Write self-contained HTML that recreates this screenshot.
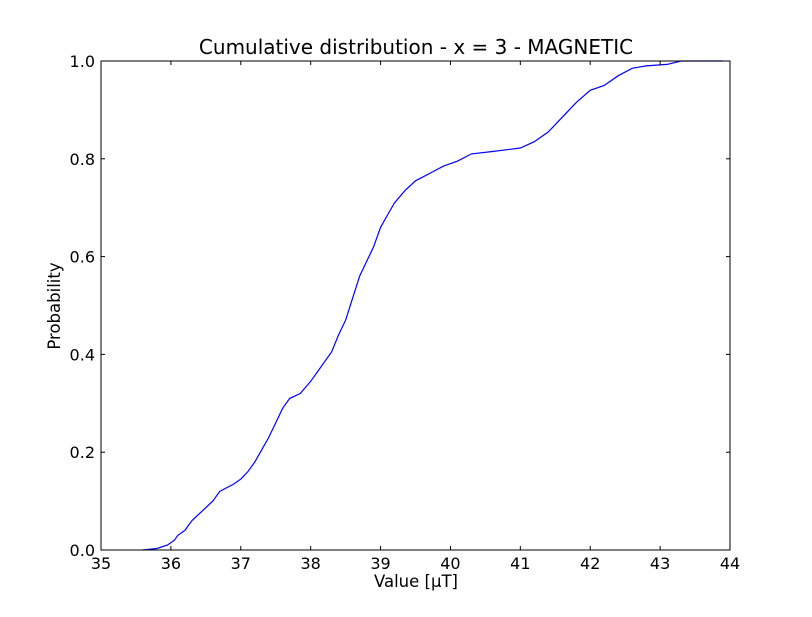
<!DOCTYPE html>
<html><head><meta charset="utf-8"><style>
body{margin:0;background:#fff;}
svg text{font-family:"DejaVu Sans","Liberation Sans",sans-serif;fill:#000;}
</style></head><body>
<svg id="chart" width="812" height="612" viewBox="0 0 812 612">
<rect width="812" height="612" fill="#fff"/>
<g id="plot"></g>
</svg>
<script>
const xVals=[35.6,35.8,35.95,36.05,36.1,36.2,36.3,36.45,36.6,36.7,36.9,37.0,37.1,37.2,37.3,37.4,37.5,37.6,37.7,37.85,38.0,38.1,38.2,38.3,38.4,38.5,38.6,38.7,38.8,38.9,39.0,39.1,39.2,39.35,39.5,39.7,39.9,40.1,40.3,40.6,41.0,41.2,41.4,41.6,41.8,42.0,42.2,42.4,42.6,42.8,43.1,43.3,43.9];
const probVals=[0,0.003,0.01,0.02,0.03,0.04,0.06,0.08,0.1,0.12,0.135,0.145,0.16,0.18,0.205,0.23,0.26,0.29,0.31,0.32,0.345,0.365,0.385,0.405,0.44,0.47,0.515,0.56,0.59,0.62,0.66,0.685,0.71,0.735,0.755,0.77,0.785,0.795,0.81,0.815,0.822,0.835,0.855,0.885,0.915,0.94,0.95,0.97,0.985,0.99,0.993,1.0,1.0];
const xTicks=[35,36,37,38,39,40,41,42,43,44];
const yTicks=[0.0,0.2,0.4,0.6,0.8,1.0];
const L=101,R=730,T=61,B=550,xMin=35,xMax=44,yMin=0,yMax=1;
const sx=v=>L+(v-xMin)/(xMax-xMin)*(R-L);
const sy=v=>B-(v-yMin)/(yMax-yMin)*(B-T);
const NS='http://www.w3.org/2000/svg';
const g=document.getElementById('plot');
function mk(tag,attrs,txt){const e=document.createElementNS(NS,tag);for(const k in attrs)e.setAttribute(k,attrs[k]);if(txt!==undefined)e.textContent=txt;g.appendChild(e);return e;}
let d=xVals.map((x,i)=>(i?'L':'M')+sx(x).toFixed(1)+','+sy(probVals[i]).toFixed(1)).join(' ');
const line=mk('path',{d:d,fill:'none',stroke:'#0000ff','stroke-width':1.2});


const frame=mk('rect',{x:L,y:T,width:R-L,height:B-T,fill:'none',stroke:'#000','stroke-width':1});


xTicks.forEach(t=>{const x=sx(t);
 mk('line',{x1:x,x2:x,y1:B,y2:B-4,stroke:'#000'});mk('line',{x1:x,x2:x,y1:T,y2:T+4,stroke:'#000'});
 const l=mk('text',{x:x,y:B+19,'text-anchor':'middle','font-size':16},String(t));
 
 });
yTicks.forEach(t=>{const y=sy(t);
 mk('line',{x1:L,x2:L+4,y1:y,y2:y,stroke:'#000'});mk('line',{x1:R,x2:R-4,y1:y,y2:y,stroke:'#000'});
 const l=mk('text',{x:L-6,y:y+6,'text-anchor':'end','font-size':16},t.toFixed(1));
 
 });
const ti=mk('text',{x:416,y:54,'text-anchor':'middle','font-size':20},'Cumulative distribution - x = 3 - MAGNETIC');


const xt=mk('text',{x:416,y:587,'text-anchor':'middle','font-size':16.5},'Value [µT]');


const yt=mk('text',{x:60,y:306,'text-anchor':'middle','font-size':16.5,transform:'rotate(-90 60 306)'},'Probability');


</script>
</body></html>
